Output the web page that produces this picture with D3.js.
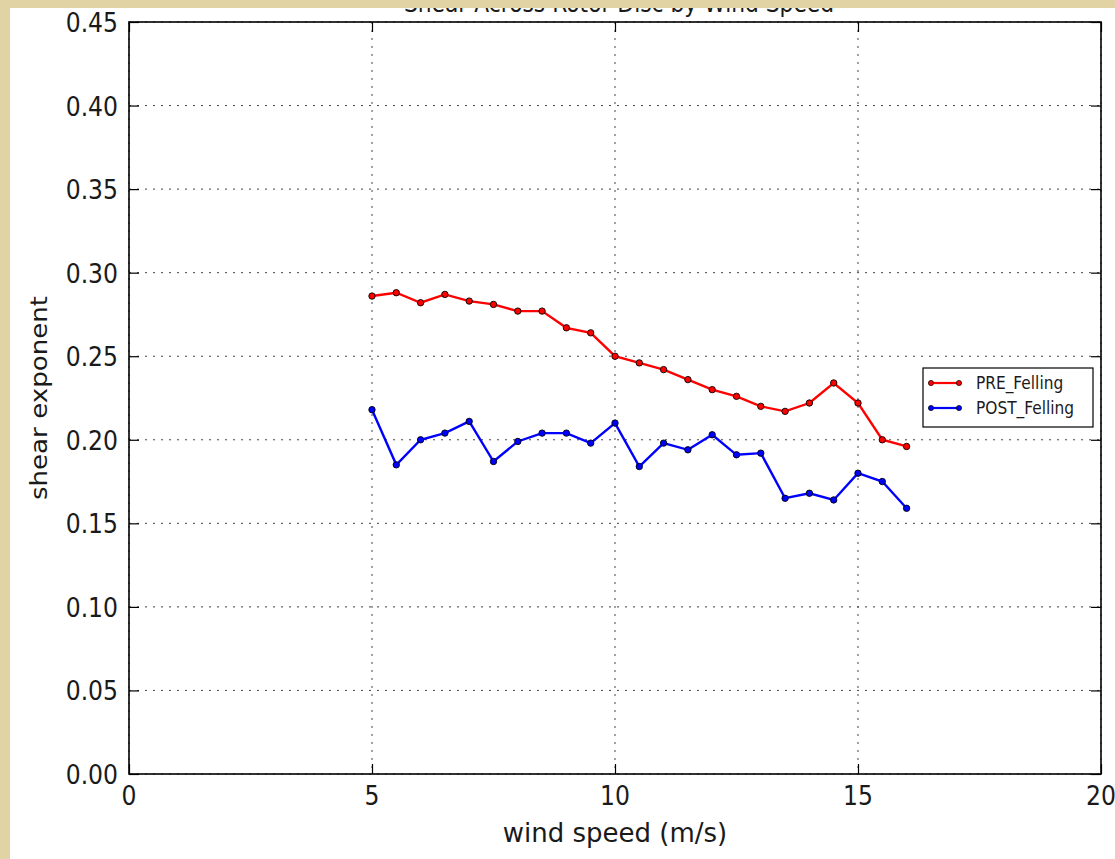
<!DOCTYPE html>
<html lang="en">
<head>
	<meta charset="utf-8">
	<title>Shear Across Rotor Disc by Wind Speed</title>
	<script src="https://cdn.jsdelivr.net/npm/d3@7"></script>
	<style>
		body { margin: 0; background: #ffffff; }
		text { font-family: "DejaVu Sans", sans-serif; fill: #1a1a1a; }
	</style>
</head>
<body>
	<div id="chart"></div>
	<script type="text/javascript">

		// data
		var windSpeed = [5, 5.5, 6, 6.5, 7, 7.5, 8, 8.5, 9, 9.5, 10, 10.5, 11, 11.5, 12, 12.5, 13, 13.5, 14, 14.5, 15, 15.5, 16];
		var preFelling = [0.286, 0.288, 0.282, 0.287, 0.283, 0.281, 0.277, 0.277, 0.267, 0.264, 0.250, 0.246, 0.242, 0.236, 0.230, 0.226, 0.220, 0.217, 0.222, 0.234, 0.222, 0.200, 0.196];
		var postFelling = [0.218, 0.185, 0.200, 0.204, 0.211, 0.187, 0.199, 0.204, 0.204, 0.198, 0.210, 0.184, 0.198, 0.194, 0.203, 0.191, 0.192, 0.165, 0.168, 0.164, 0.180, 0.175, 0.159];
		var seriesNames = ["PRE_Felling", "POST_Felling"];
		var seriesColors = ["#ff0000", "#0000ff"];
		var xTicks = [0, 5, 10, 15, 20];
		var yTicks = [0, 0.05, 0.10, 0.15, 0.20, 0.25, 0.30, 0.35, 0.40, 0.45];

		var width = 1115, height = 859;
		var plot = {left: 129, right: 1101, top: 22, bottom: 774};
		var stretch = 1.16;   // the picture is a bit taller than wide

		var svg = d3.select("#chart")
			.append("svg")
			.attr("width", width)
			.attr("height", height);

		var xScale = d3.scaleLinear().domain([0, 20]).range([plot.left, plot.right]);
		var yScale = d3.scaleLinear().domain([0, 0.45]).range([plot.bottom, plot.top]);

		// helper for stretched text
		function label(x, y, str, size, anchor, rot, k) {
			k = k || stretch;
			var t = svg.append("text")
				.attr("transform", "translate(" + x + "," + y + ")" + (rot ? " rotate(-90) scale(" + k + ",1)" : " scale(1," + k + ")"))
				.attr("text-anchor", anchor)
				.style("font-size", size + "px")
				.text(str);
			return t;
		}

		// title (cut at the top of the figure)
		label(619, 12, "Shear Across Rotor Disc by Wind Speed", 21.8, "middle", false);

		// grid
		svg.append("g").selectAll("line")
			.data(xTicks)
			.enter()
				.append("line")
				.attr("x1", function(d){return xScale(d);})
				.attr("x2", function(d){return xScale(d);})
				.attr("y1", plot.top)
				.attr("y2", plot.bottom)
				.attr("stroke", "#444")
				.attr("stroke-width", 1)
				.attr("stroke-dasharray", "2,6");

		svg.append("g").selectAll("line")
			.data(yTicks)
			.enter()
				.append("line")
				.attr("x1", plot.left)
				.attr("x2", plot.right)
				.attr("y1", function(d){return yScale(d);})
				.attr("y2", function(d){return yScale(d);})
				.attr("stroke", "#444")
				.attr("stroke-width", 1)
				.attr("stroke-dasharray", "2,6");

		// axes with inward ticks on all four sides
		var tickLen = 10;
		svg.append("g")
			.attr("transform", "translate(0," + plot.bottom + ")")
			.call(d3.axisBottom(xScale).tickValues(xTicks).tickSizeInner(-tickLen).tickSizeOuter(0).tickFormat(""));
		svg.append("g")
			.attr("transform", "translate(0," + plot.top + ")")
			.call(d3.axisTop(xScale).tickValues(xTicks).tickSizeInner(-tickLen).tickSizeOuter(0).tickFormat(""));
		svg.append("g")
			.attr("transform", "translate(" + plot.left + ",0)")
			.call(d3.axisLeft(yScale).tickValues(yTicks).tickSizeInner(-tickLen).tickSizeOuter(0).tickFormat(""));
		svg.append("g")
			.attr("transform", "translate(" + plot.right + ",0)")
			.call(d3.axisRight(yScale).tickValues(yTicks).tickSizeInner(-tickLen).tickSizeOuter(0).tickFormat(""));
		svg.selectAll(".domain").remove();
		svg.selectAll(".tick line").attr("stroke", "#000").attr("stroke-width", 1.2);

		// frame
		svg.append("rect")
			.attr("x", plot.left)
			.attr("y", plot.top)
			.attr("width", plot.right - plot.left)
			.attr("height", plot.bottom - plot.top)
			.attr("fill", "none")
			.attr("stroke", "#000")
			.attr("stroke-width", 1.6);

		// tick labels
		xTicks.forEach(function(d){
			label(xScale(d), 805, d, 23.5, "middle", false);
		});
		yTicks.forEach(function(d){
			label(118, yScale(d) + 10, d3.format(".2f")(d), 23.5, "end", false);
		});

		// axis titles
		label(615, 842, "wind speed (m/s)", 26, "middle", false, 1.05);
		label(47, 398, "shear exponent", 22.5, "middle", true);

		// series
		var series = [preFelling, postFelling];
		var line = d3.line()
			.x(function(d, i){return xScale(windSpeed[i]);})
			.y(function(d){return yScale(d);});

		series.forEach(function(values, s){
			svg.append("path")
				.datum(values)
				.attr("d", line)
				.attr("fill", "none")
				.attr("stroke", seriesColors[s])
				.attr("stroke-width", 2.4);

			svg.append("g").selectAll("circle")
				.data(values)
				.enter()
					.append("circle")
					.attr("cx", function(d, i){return xScale(windSpeed[i]);})
					.attr("cy", function(d){return yScale(d);})
					.attr("r", 3.2)
					.attr("fill", seriesColors[s])
					.attr("stroke", "#000")
					.attr("stroke-width", 0.9);
		});

		// legend
		var legend = svg.append("g").attr("transform", "translate(923,368)");
		legend.append("rect")
			.attr("width", 170)
			.attr("height", 59)
			.attr("fill", "#fff")
			.attr("stroke", "#000")
			.attr("stroke-width", 1.2);

		seriesNames.forEach(function(name, s){
			var ly = 15 + s * 25;
			legend.append("line")
				.attr("x1", 8).attr("x2", 36)
				.attr("y1", ly).attr("y2", ly)
				.attr("stroke", seriesColors[s])
				.attr("stroke-width", 2.2);
			legend.selectAll(null)
				.data([8, 36])
				.enter()
					.append("circle")
					.attr("cx", function(d){return d;})
					.attr("cy", ly)
					.attr("r", 2.6)
					.attr("fill", seriesColors[s])
					.attr("stroke", "#000")
					.attr("stroke-width", 0.7);
			legend.append("text")
				.attr("transform", "translate(53," + (ly + 6) + ") scale(1," + stretch + ")")
				.style("font-size", "15.4px")
				.text(name);
		});

		// page background showing at the top and left edge
		svg.append("rect").attr("x", 0).attr("y", 0).attr("width", width).attr("height", 8).attr("fill", "#e2d3a5");
		svg.append("rect").attr("x", 0).attr("y", 0).attr("width", 10).attr("height", height).attr("fill", "#e2d3a5");

	</script>
</body>
</html>
